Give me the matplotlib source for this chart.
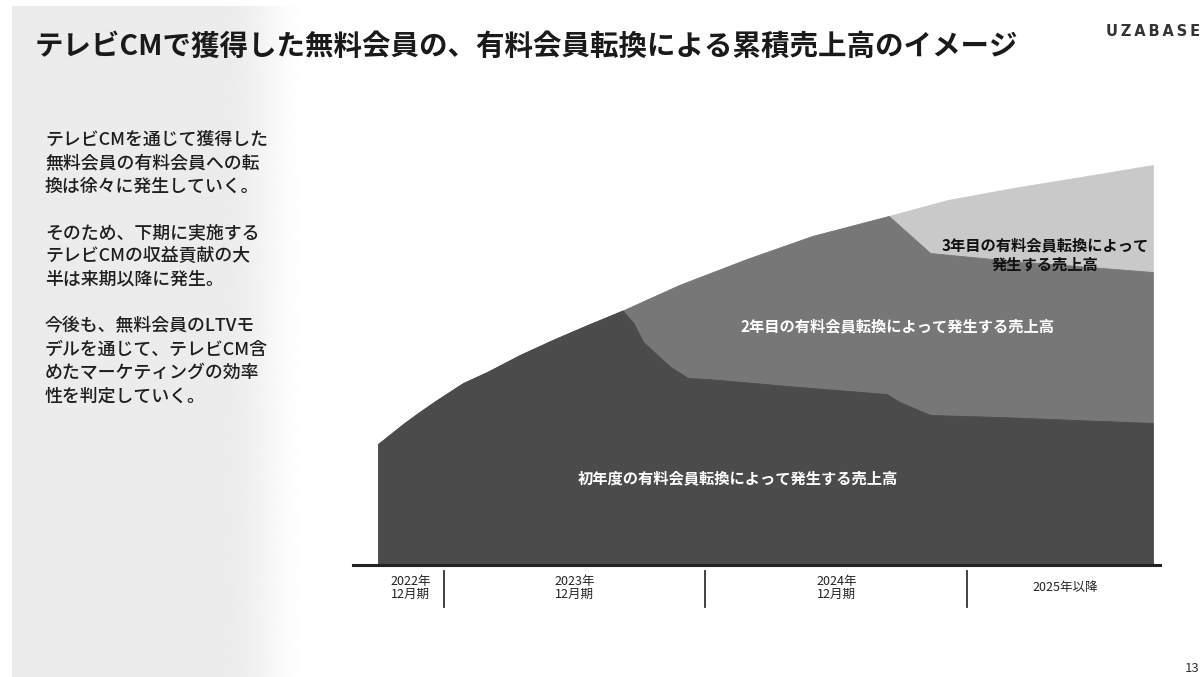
import numpy as np
import matplotlib
matplotlib.use('Agg')
import matplotlib.pyplot as plt
import matplotlib.transforms as mtransforms

plt.rcParams['font.family'] = ['Noto Sans CJK JP', 'DejaVu Sans']

# cumulative revenue index (total at the right edge = 100), x in months from Oct 2022
total_x = [0, 1.15, 1.9, 2.7, 3.9, 5.0, 6.5, 8.0, 9.6, 11.2,
           13.8, 16.9, 19.9, 23.4, 26.1, 29.1, 32.2, 35.5]
total_y = [30.25, 35.25, 38.25, 41.25, 45.5, 48.25, 52.5, 56.25, 60.0, 63.6,
           70.0, 76.5, 82.25, 87.25, 91.25, 94.25, 97.0, 100]

# top of the 2nd-year layer (1st + 2nd year)
second_x = [0, 1.15, 1.9, 2.7, 3.9, 5.0, 6.5, 8.0, 9.6, 11.2,
            13.8, 16.9, 19.9, 23.4, 25.3, 29.1, 35.5]
second_y = [30.25, 35.25, 38.25, 41.25, 45.5, 48.25, 52.5, 56.25, 60.0, 63.6,
            70.0, 76.5, 82.25, 87.25, 78.0, 76.0, 73.25]

# top of the 1st-year layer
first_x = [0, 1.15, 1.9, 2.7, 3.9, 5.0, 6.5, 8.0, 9.6, 11.2,
           11.7, 12.15, 12.8, 13.4, 14.2, 15.1, 19.3, 23.3, 23.9, 25.3, 28.5, 35.5]
first_y = [30.25, 35.25, 38.25, 41.25, 45.5, 48.25, 52.5, 56.25, 60.0, 63.6,
           60.5, 55.75, 52.5, 49.5, 46.75, 46.5, 44.5, 42.75, 40.75, 37.5, 37.0, 35.5]

layer_labels = ['初年度の有料会員転換によって発生する売上高',
                '2年目の有料会員転換によって発生する売上高',
                '3年目の有料会員転換によって\n発生する売上高']
layer_colors = ['#4b4b4b', '#777777', '#c9c9c9']

period_edges = [0, 3, 15, 27, 36]
period_labels = ['2022年\n12月期', '2023年\n12月期', '2024年\n12月期', '2025年以降']

title = 'テレビCMで獲得した無料会員の、有料会員転換による累積売上高のイメージ'
side_lines = ['テレビCMを通じて獲得した', '無料会員の有料会員への転', '換は徐々に発生していく。', '',
              'そのため、下期に実施する', 'テレビCMの収益貢献の大', '半は来期以降に発生。', '',
              '今後も、無料会員のLTVモ', 'デルを通じて、テレビCM含', 'めたマーケティングの効率',
              '性を判定していく。']

W, H = 1204, 677
fig = plt.figure(figsize=(W / 100, H / 100), dpi=100)
fig.patch.set_facecolor('white')

# background: grey side panel fading softly to white
bg = fig.add_axes([0, 0, 1, 1], zorder=-1)
bg.set_xlim(0, W)
bg.set_ylim(H, 0)
bg.axis('off')
px = np.arange(12, 312)
t = np.clip((px - 225) / 85.0, 0, 1)
t = t * t * (3 - 2 * t)
shade = 0.925 + (1 - 0.925) * t
bg.imshow(np.tile(shade, (2, 1)), cmap='gray', vmin=0, vmax=1, aspect='auto',
          extent=[12, 312, H, 6], interpolation='bilinear')

# chart
ax = fig.add_axes([353 / W, (H - 565) / H, 807 / W, 415 / H])
ax.fill_between(total_x, 0, total_y, color=layer_colors[2], lw=0.6, ec=layer_colors[2])
ax.fill_between(second_x, 0, second_y, color=layer_colors[1], lw=0.6, ec=layer_colors[1])
ax.fill_between(first_x, 0, first_y, color=layer_colors[0], lw=0.6, ec=layer_colors[0])
ax.set_xlim(-1.15, 35.83)
ax.set_ylim(0, 103.75)
ax.patch.set_alpha(0)
for s in ['top', 'right', 'left']:
    ax.spines[s].set_visible(False)
ax.spines['bottom'].set_linewidth(2.2)
ax.spines['bottom'].set_color('#222222')
ax.spines['bottom'].set_zorder(5)
ax.set_xticks([])
ax.set_yticks([])

trans = mtransforms.blended_transform_factory(ax.transData, ax.transAxes)
for e in period_edges[1:-1]:
    ax.plot([e, e], [-0.015, -0.1], color='#333333', lw=1.3,
            transform=trans, clip_on=False)
for i, lab in enumerate(period_labels):
    cx = (period_edges[i] + period_edges[i + 1]) / 2
    ax.text(cx, -0.055, lab, transform=trans, ha='center', va='center',
            fontsize=9, color='#222222', linespacing=1.05)

# layer captions
ax.text(16.5, 21.75, layer_labels[0], ha='center', va='center',
        fontsize=11, color='white', fontweight='bold')
ax.text(23.8, 59.75, layer_labels[1], ha='center', va='center',
        fontsize=11, color='white', fontweight='bold')
ax.text(30.55, 77.5, layer_labels[2], ha='center', va='center',
        fontsize=11, color='#111111', fontweight='bold', linespacing=1.25)

# header, side notes, footer
fig.text(35 / W, 1 - 47 / H, title, ha='left', va='center',
         fontsize=20.5, fontweight='bold', color='#1a1a1a')
fig.text(1200 / W, 1 - 31 / H, '\u2009'.join('UZABASE'), ha='right', va='center',
         fontsize=10.5, fontweight='bold', color='#333333', family='DejaVu Sans')
for i, line in enumerate(side_lines):
    if line:
        fig.text(45 / W, 1 - (140 + 23.3 * i) / H, line, ha='left', va='center',
                 fontsize=12.9, fontweight='medium', color='#1e1e1e')
fig.text(1200 / W, 1 - 668 / H, '13', ha='right', va='center',
         fontsize=9.5, color='#333333')

fig.savefig('out.png', dpi=100)
